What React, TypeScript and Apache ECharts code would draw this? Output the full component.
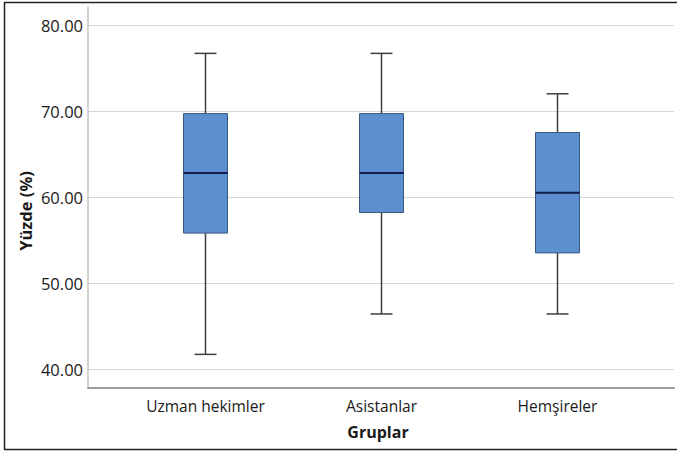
import React, { useEffect, useRef } from "react";
import * as echarts from "echarts";

const categories = ["Uzman hekimler", "Asistanlar", "Hemşireler"];
const mins = [41.7, 46.4, 46.4];
const q1s = [55.8, 58.2, 53.5];
const medians = [62.8, 62.8, 60.5];
const q3s = [69.7, 69.7, 67.5];
const maxs = [76.7, 76.7, 72.0];
const yTicks = [40, 50, 60, 70, 80];

const FONT = "'Open Sans', 'Noto Sans', sans-serif";

export default function App() {
  const ref = useRef<HTMLDivElement>(null);
  useEffect(() => {
    if (!ref.current) return;
    const chart = echarts.init(ref.current, null, { renderer: "svg" });
    const data = categories.map((_, i) => [i, mins[i], q1s[i], medians[i], q3s[i], maxs[i]]);
    const BOX_W = 44;
    chart.setOption({
      animation: false,
      backgroundColor: "#ffffff",
      textStyle: { fontFamily: FONT },
      grid: [
        { left: 88, right: 3, top: 7, bottom: 63 },
        { left: 88, right: 3, top: 25, bottom: 82 },
        { left: 117.5, right: 31.5, top: 25, bottom: 82 },
      ],
      xAxis: [
        {
          gridIndex: 0,
          type: "value",
          min: 0,
          max: 1,
          axisLine: { show: true, onZero: false, lineStyle: { color: "#9c9c9c", width: 2 } },
          axisTick: { show: false },
          axisLabel: { show: false },
          splitLine: { show: false },
        },
        {
          gridIndex: 1,
          type: "value",
          min: 0,
          max: 1,
          show: false,
        },
        {
          gridIndex: 2,
          type: "category",
          data: categories,
          boundaryGap: true,
          axisLine: { show: false },
          axisTick: { show: false },
          splitLine: { show: false },
          axisLabel: { margin: 29, color: "#1a1a1a", fontSize: 15.5, fontFamily: FONT },
        },
      ],
      yAxis: [
        {
          gridIndex: 0,
          type: "value",
          min: 0,
          max: 1,
          axisLine: { show: true, onZero: false, lineStyle: { color: "#c4c4c4", width: 1.5 } },
          axisTick: { show: false },
          axisLabel: { show: false },
          splitLine: { show: false },
        },
        {
          gridIndex: 1,
          type: "value",
          min: yTicks[0],
          max: yTicks[yTicks.length - 1],
          interval: 10,
          axisLine: { show: false },
          axisTick: { show: false },
          axisLabel: {
            margin: 5,
            color: "#1a1a1a",
            fontSize: 16.5,
            fontFamily: FONT,
            formatter: (v: number) => v.toFixed(2),
          },
          splitLine: { show: true, lineStyle: { color: "#d6d6d6", width: 1.2 } },
        },
        {
          gridIndex: 2,
          type: "value",
          min: yTicks[0],
          max: yTicks[yTicks.length - 1],
          show: false,
        },
      ],
      series: [
        {
          type: "custom",
          xAxisIndex: 2,
          yAxisIndex: 2,
          data,
          encode: { x: 0, y: [1, 2, 3, 4, 5] },
          renderItem: (params: any, api: any) => {
            const i = api.value(0);
            const x = api.coord([i, api.value(3)])[0];
            const yMin = api.coord([i, api.value(1)])[1];
            const yQ1 = api.coord([i, api.value(2)])[1];
            const yMed = api.coord([i, api.value(3)])[1];
            const yQ3 = api.coord([i, api.value(4)])[1];
            const yMax = api.coord([i, api.value(5)])[1];
            const hw = BOX_W / 2;
            const cw = BOX_W / 4;
            const wStyle = { stroke: "#3e3e3e", lineWidth: 1.5 };
            return {
              type: "group",
              children: [
                { type: "line", shape: { x1: x, y1: yMax, x2: x, y2: yQ3 }, style: wStyle },
                { type: "line", shape: { x1: x, y1: yQ1, x2: x, y2: yMin }, style: wStyle },
                { type: "line", shape: { x1: x - cw, y1: yMax, x2: x + cw, y2: yMax }, style: wStyle },
                { type: "line", shape: { x1: x - cw, y1: yMin, x2: x + cw, y2: yMin }, style: wStyle },
                {
                  type: "rect",
                  shape: { x: x - hw, y: yQ3, width: BOX_W, height: yQ1 - yQ3 },
                  style: { fill: "#5b8fd0", stroke: "#3a577f", lineWidth: 1 },
                },
                {
                  type: "line",
                  shape: { x1: x - hw, y1: yMed, x2: x + hw, y2: yMed },
                  style: { stroke: "#121a4a", lineWidth: 2 },
                },
              ],
            };
          },
        },
      ],
      graphic: [
        {
          type: "rect",
          shape: { x: 4.5, y: 2.5, width: 700, height: 447 },
          style: { fill: "none", stroke: "#222222", lineWidth: 1.5 },
          silent: true,
        },
        {
          type: "text",
          x: 25,
          y: 211,
          rotation: Math.PI / 2,
          style: {
            text: "Yüzde (%)",
            fontFamily: FONT,
            fontSize: 16.5,
            fontWeight: "bold",
            fill: "#1a1a1a",
            textAlign: "center",
            textVerticalAlign: "middle",
          },
        },
        {
          type: "text",
          x: 378,
          y: 432,
          style: {
            text: "Gruplar",
            fontFamily: FONT,
            fontSize: 16,
            fontWeight: "bold",
            fill: "#1a1a1a",
            textAlign: "center",
            textVerticalAlign: "middle",
          },
        },
      ],
    });
    return () => chart.dispose();
  }, []);
  return (
    <div
      ref={ref}
      style={{ position: "fixed", left: 0, top: 0, width: 677, height: 451 }}
    />
  );
}
